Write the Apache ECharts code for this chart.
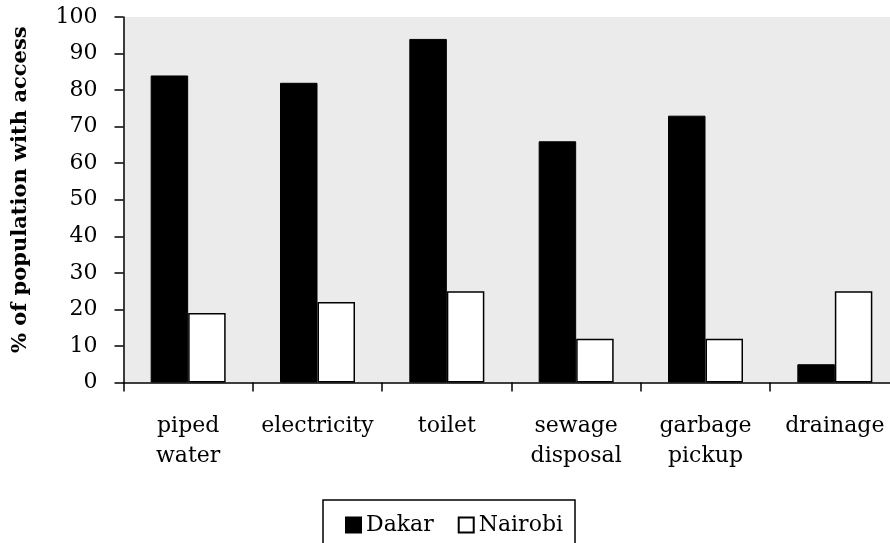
<!DOCTYPE html>
<html>
<head>
<meta charset="utf-8">
<script src="https://cdn.jsdelivr.net/npm/echarts@6/dist/echarts.min.js"></script>
<style>
html,body{margin:0;padding:0;background:#fff;}
#chart{width:890px;height:543px;}
</style>
</head>
<body>
<div id="chart"></div>
<script>
const categories = ['piped\nwater', 'electricity', 'toilet', 'sewage\ndisposal', 'garbage\npickup', 'drainage'];
const dakar = [84, 82, 94, 66, 73, 5];
const nairobi = [19, 22, 25, 12, 12, 25];
const yTicks = { min: 0, max: 100, interval: 10 };
const seriesNames = ['Dakar', 'Nairobi'];
const yTitle = '% of population with access';

const FONT = 'DejaVu Serif';
const chart = echarts.init(document.getElementById('chart'), null, { renderer: 'canvas' });
chart.setOption({
  animation: false,
  backgroundColor: '#fff',
  grid: {
    left: 123.5, top: 17, width: 776, bottom: 160.5,
    outerBoundsMode: 'none',
    containLabel: false,
    show: true, backgroundColor: '#ebebeb', borderWidth: 0
  },
  legend: {
    data: seriesNames,
    left: 323, top: 500,
    orient: 'horizontal',
    icon: 'rect',
    itemWidth: 15, itemHeight: 15,
    itemGap: 24,
    borderColor: '#000', borderWidth: 1.5,
    padding: [14, 12, 14, 22],
    textStyle: { fontFamily: FONT, fontSize: 22, color: '#000' }
  },
  xAxis: {
    type: 'category',
    data: categories,
    axisLine: { show: true, lineStyle: { color: '#000', width: 1.5 } },
    axisTick: { show: true, length: 9, lineStyle: { color: '#000', width: 1.5 } },
    axisLabel: { interval: 0, margin: 29, fontFamily: FONT, fontSize: 22, lineHeight: 30, color: '#000' },
    splitLine: { show: false }
  },
  yAxis: {
    type: 'value',
    min: yTicks.min, max: yTicks.max, interval: yTicks.interval,
    name: yTitle,
    nameLocation: 'middle',
    nameRotate: 90,
    nameGap: 92,
    nameTextStyle: { fontFamily: FONT, fontSize: 21, fontWeight: 'bold', color: '#000', padding: [0, 0, 0, 20] },
    axisLine: { show: true, lineStyle: { color: '#000', width: 1.5 } },
    axisTick: { show: true, length: 9, lineStyle: { color: '#000', width: 1.5 } },
    axisLabel: { margin: 26, fontFamily: FONT, fontSize: 22, color: '#000' },
    splitLine: { show: false }
  },
  series: [
    {
      name: seriesNames[0], type: 'bar', data: dakar,
      barWidth: 37.5, barGap: '0%',
      itemStyle: { color: '#000', borderColor: '#000', borderWidth: 1 }
    },
    {
      name: seriesNames[1], type: 'bar', data: nairobi,
      barWidth: 37.5, barGap: '0%',
      itemStyle: { color: '#fff', borderColor: '#000', borderWidth: 1.5 }
    }
  ]
});
</script>
</body>
</html>
